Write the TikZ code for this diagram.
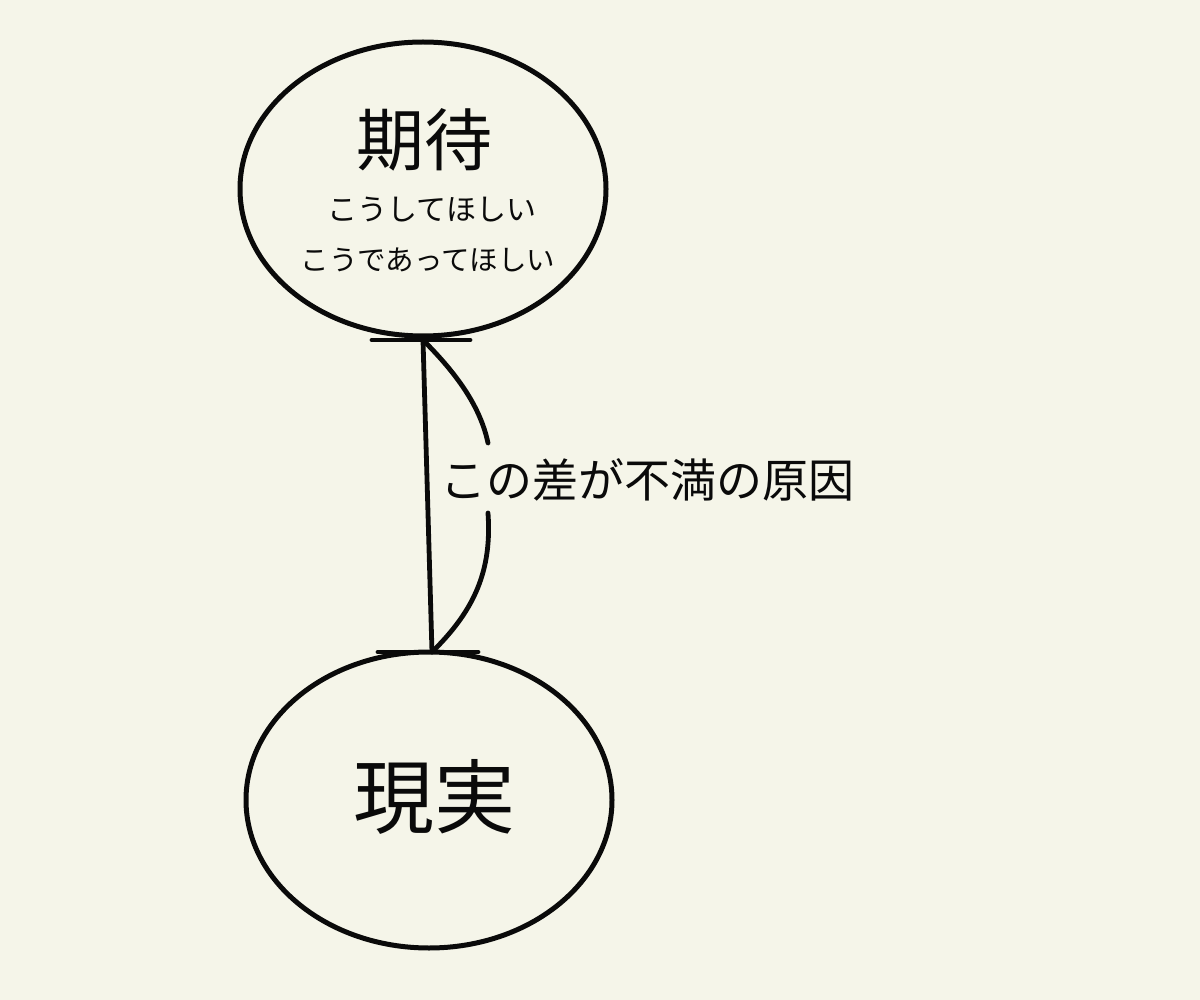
\documentclass[tikz,border=0pt]{standalone}
\usepackage{fontspec}
\newfontfamily\cjk{Noto Sans CJK JP}
\usetikzlibrary{shapes.geometric}
\definecolor{bg}{RGB}{245,245,233}
\definecolor{ink}{RGB}{10,10,10}
\tikzset{
  oval/.style={ellipse, draw=ink, line width=5pt, inner sep=0pt},
  conn/.style={draw=ink, line width=4.8pt, line cap=round},
  lbl/.style={text=ink, inner sep=0pt, font=\cjk},
}
\begin{document}
\begin{tikzpicture}[x=1pt,y=-1pt]
\fill[bg] (0,0) rectangle (1200,1000);
\useasboundingbox (0,0) rectangle (1200,1000);
\node[oval, minimum width=366pt, minimum height=294pt] (exp) at (423,189) {};
\node[oval, minimum width=366pt, minimum height=296pt] (real) at (429,800) {};
\node[lbl, font=\cjk\fontsize{68}{76}\selectfont] (expt) at (424,140) {期待};
\node[lbl, font=\cjk\fontsize{30}{34}\selectfont] (l1) at (432,210) {こうしてほしい};
\node[lbl, font=\cjk\fontsize{28.5}{32}\selectfont] (l2) at (428,260) {こうであってほしい};
\node[lbl, font=\cjk\fontsize{81}{90}\selectfont] (realt) at (434,797) {現実};
\node[lbl, font=\cjk\fontsize{46}{52}\selectfont] (gap) at (647,480) {この差が不満の原因};
\coordinate (ta) at (423,340);
\coordinate (tl) at (372,340);
\coordinate (tr) at (470,340);
\coordinate (ba) at (432,652);
\coordinate (bl) at (378,652);
\coordinate (br) at (478,652);
\coordinate (ct) at (488,443);
\coordinate (cb) at (488,513);
\draw[conn] (tl) -- (tr);
\draw[conn] (bl) -- (br);
\draw[conn] (ta) -- (ba);
\draw[conn] (ta) .. controls (455,372) and (480,405) .. (ct);
\draw[conn] (cb) .. controls (492,570) and (475,610) .. (ba);
\end{tikzpicture}
\end{document}
